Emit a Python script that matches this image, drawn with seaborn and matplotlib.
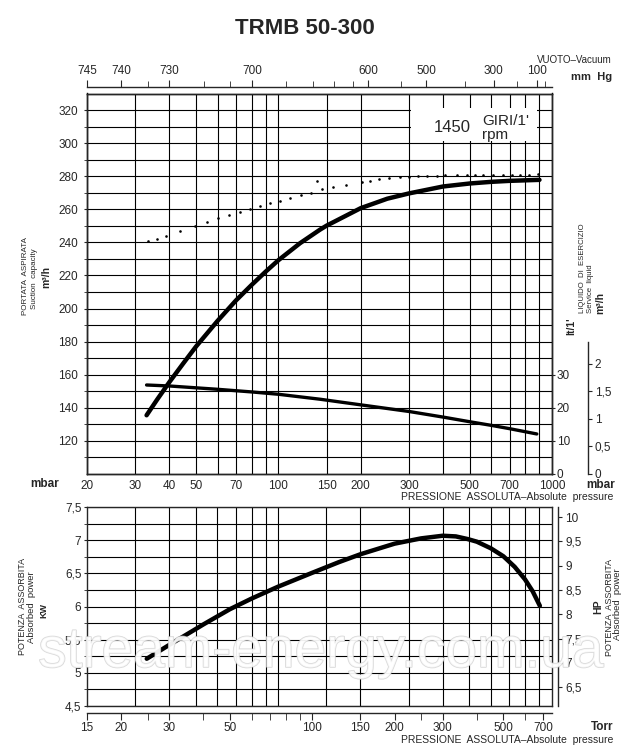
import numpy as np
import matplotlib
matplotlib.use("Agg")
import matplotlib.pyplot as plt
import matplotlib.ticker as mticker
import matplotlib.patheffects as pe
from matplotlib.patches import Rectangle
import seaborn as sns

# ---- dati ----
# portata aspirata (m3/h) in funzione della pressione assoluta (mbar)
p_portata = [33, 36, 40, 45, 50, 60, 70, 80, 90, 100, 120, 142, 150, 200, 250, 300, 400, 500, 600, 700, 900]
portata = [135.5, 144.8, 155.6, 167.0, 177.0, 192.6, 204.9, 214.4, 222.4, 229.2, 239.5, 247.7, 250.1, 260.7,
           266.4, 269.6, 273.8, 275.6, 276.6, 277.2, 277.8]

# curva puntinata (portata teorica)
p_punti = [33.5, 35.9, 39.0, 43.8, 49.8, 55.0, 60.3, 66.0, 72.2, 78.8, 85.6, 93, 101, 110.6, 121, 131.6, 138,
           144, 158, 177, 202, 216, 234, 254, 279, 300, 325, 348, 379, 406, 449, 488, 523, 561, 610, 664,
           712, 764, 826, 891]
punti = [240.6, 242.2, 244.0, 246.9, 249.7, 252.1, 254.6, 256.6, 258.6, 260.4, 262.2, 263.9, 265.3, 266.9,
         268.7, 270.1, 277.4, 272.0, 273.4, 274.8, 276.6, 277.4, 278.2, 279.0, 279.6, 279.8, 280.0, 280.2,
         280.4, 280.6, 280.8, 280.8, 280.8, 281.0, 281.0, 281.0, 281.0, 281.0, 281.0, 281.2]

# liquido di esercizio (lt/1')
p_liquido = [33, 40, 60, 80, 100, 142, 200, 300, 400, 500, 600, 700, 880]
liquido = [26.9, 26.6, 25.6, 24.8, 24.1, 22.6, 20.9, 18.9, 17.2, 15.8, 14.7, 13.7, 12.1]

# potenza assorbita (kW) in funzione della pressione (Torr)
p_potenza = [24.8, 30, 40, 50, 60, 75, 100, 125, 150, 200, 250, 300, 335, 370, 400, 450, 500, 550, 600, 640, 680]
potenza = [5.21, 5.42, 5.73, 5.96, 6.12, 6.30, 6.51, 6.67, 6.79, 6.95, 7.03, 7.07, 7.06, 7.02, 6.98, 6.88,
           6.76, 6.60, 6.41, 6.23, 6.01]

# griglie e tacche
griglia_mbar = [30, 40, 50, 60, 70, 80, 90, 100, 150, 200, 300, 400, 500, 600, 700, 800, 900]
tick_mbar = [20, 30, 40, 50, 70, 100, 150, 200, 300, 500, 700, 1000]
minor_mbar = [60, 80, 90, 400, 600, 800, 900]
vuoto_major = [745, 740, 730, 700, 600, 500, 300, 100]
vuoto_minor = [735, 720, 710, 680, 660, 640, 620, 550, 400, 200, 50]
torr_major = [15, 20, 30, 50, 100, 150, 200, 300, 500, 700]
torr_minor = [25, 40, 60, 70, 80, 90, 250, 400, 600]
kw_ticks = [4.5, 5, 5.5, 6, 6.5, 7, 7.5]
kw_labels = ["4,5", "5", "5,5", "6", "6,5", "7", "7,5"]
hp_ticks = [6.5, 7, 7.5, 8, 8.5, 9, 9.5, 10]
hp_labels = ["6,5", "7", "7,5", "8", "8,5", "9", "9,5", "10"]
lt_ticks = [0, 10, 20, 30]
m3h_ticks = [0, 0.5, 1, 1.5, 2]
m3h_labels = ["0", "0,5", "1", "1,5", "2"]

MBAR_TORR = 0.750062
X_MIN, X_MAX = 19.99, 1000

sns.set_style("white")
plt.rcParams["font.family"] = ["Liberation Sans", "DejaVu Sans"]
plt.rcParams["axes.linewidth"] = 1.0

fig = plt.figure(figsize=(6.4, 7.5), dpi=100)
W, H = 640, 750


def T(x, y, s, **kw):
    fig.text(x / W, 1 - y / H, s, **kw)


# ---------------- grafico superiore ----------------
ax = fig.add_axes([87 / W, 1 - 474 / H, 465 / W, 380.5 / H])
ax.set_xscale("log")
ax.set_xlim(X_MIN, X_MAX)
ax.set_ylim(100, 330)

ax.set_xticks(tick_mbar, labels=[str(t) for t in tick_mbar])
ax.set_xticks(minor_mbar, minor=True)
ax.xaxis.set_minor_formatter(mticker.NullFormatter())
ax.set_yticks(range(120, 321, 20))
ax.set_yticks(range(110, 330, 20), minor=True)
ax.grid(True, which="both", color="black", lw=0.8)
ax.tick_params(axis="x", which="both", length=0, pad=4, labelsize=8.5)
ax.tick_params(axis="y", which="major", length=2.5, pad=4, labelsize=8.5, direction="out", left=True)
ax.tick_params(axis="y", which="minor", length=2.5, left=True)
for s in ax.spines.values():
    s.set_color("black")

sns.lineplot(x=p_portata, y=portata, ax=ax, color="black", linewidth=3.2)
sns.scatterplot(x=p_punti, y=punti, ax=ax, color="black", s=3.5, marker="o", linewidth=0)
ax.set_xlabel("")
ax.set_ylabel("")

# riquadro giri
ax.add_patch(Rectangle((306, 301), 578, 20.5, facecolor="white", edgecolor="none", zorder=2))

# asse liquido lt/1'
ax_l = ax.twinx()
ax_l.set_ylim(0, 115)
sns.lineplot(x=p_liquido, y=liquido, ax=ax_l, color="black", linewidth=2.4)
ax_l.set_xlabel("")
ax_l.set_ylabel("")
ax_l.set_yticks(lt_ticks)
ax_l.tick_params(axis="y", length=2, pad=1.5, labelsize=8.5, direction="out")
ax_l.grid(False)

# asse m3/h liquido
sec_m = ax_l.secondary_yaxis(1.077, functions=(lambda l: l * 0.06, lambda m: m / 0.06))
sec_m.set_yticks(m3h_ticks, labels=m3h_labels)
sec_m.tick_params(length=3, pad=2, labelsize=8.5, direction="out")
sec_m.spines["right"].set_bounds(0, 2.4)

# asse superiore: vuoto mm Hg
sec_v = ax.secondary_xaxis(1.017, functions=(lambda m: 760 - m / 1.333224,
                                              lambda v: (760 - v) * 1.333224))
sec_v.set_xticks(vuoto_major, labels=[str(v) for v in vuoto_major])
sec_v.set_xticks(vuoto_minor, minor=True)
sec_v.xaxis.set_minor_formatter(mticker.NullFormatter())
sec_v.tick_params(which="major", length=5, pad=2, labelsize=8.5, direction="out")
sec_v.tick_params(which="minor", length=4, direction="out")

# ---------------- grafico inferiore ----------------
ax2 = fig.add_axes([87 / W, 1 - 705.7 / H, 464.5 / W, 198.4 / H])
ax2.set_xscale("log")
ax2.set_xlim(X_MIN * MBAR_TORR, X_MAX * MBAR_TORR)
ax2.set_ylim(4.5, 7.5)
ax2.set_xticks([g * MBAR_TORR for g in griglia_mbar])
ax2.xaxis.set_major_formatter(mticker.NullFormatter())
ax2.xaxis.set_minor_locator(mticker.NullLocator())
ax2.set_yticks(kw_ticks, labels=kw_labels)
ax2.set_yticks(np.array(kw_ticks[:-1]) + 0.25, minor=True)
ax2.grid(True, which="both", color="black", lw=0.8)
ax2.tick_params(axis="x", length=0)
ax2.tick_params(axis="y", which="both", length=2.5, pad=1.5, labelsize=8.5, left=True, direction="out")

sns.lineplot(x=p_potenza, y=potenza, ax=ax2, color="black", linewidth=3.2)
ax2.set_xlabel("")
ax2.set_ylabel("")

sec_t = ax2.secondary_xaxis(-0.035)
sec_t.set_xticks(torr_major, labels=[str(t) for t in torr_major])
sec_t.set_xticks(torr_minor, minor=True)
sec_t.xaxis.set_minor_formatter(mticker.NullFormatter())
sec_t.tick_params(which="both", length=5, pad=2, labelsize=8.5, direction="out")

sec_hp = ax2.secondary_yaxis(1.015, functions=(lambda k: k * 1.36, lambda h: h / 1.36))
sec_hp.set_yticks(hp_ticks, labels=hp_labels)
sec_hp.tick_params(length=3, pad=2, labelsize=8.5, direction="out")

# ---------------- testi ----------------
T(305, 28, "TRMB 50-300", fontsize=16, fontweight="bold", ha="center", va="center")
T(612, 60, "VUOTO\u2013Vacuum", fontsize=7, ha="right", va="center")
T(612, 77, "mm  Hg", fontsize=8, fontweight="bold", ha="right", va="center")

T(45, 484, "mbar", fontsize=8.5, fontweight="bold", ha="center", va="center")
T(601, 485, "mbar", fontsize=8.5, fontweight="bold", ha="center", va="center")
T(401, 497, "PRESSIONE  ASSOLUTA\u2013Absolute  pressure", fontsize=7.5, ha="left", va="center")

T(452, 128, "1450", fontsize=12, ha="center", va="center")
T(482, 121, "GIRI/1'", fontsize=11, ha="left", va="center")
T(482, 135, "rpm", fontsize=11, ha="left", va="center")

T(26, 276, "PORTATA  ASPIRATA", fontsize=5.8, rotation=90, ha="center", va="center")
T(34, 279, "Suction  capacity", fontsize=5.8, rotation=90, ha="center", va="center")
T(46, 277, "m\u00b3/h", fontsize=7.5, fontweight="bold", rotation=90, ha="center", va="center")

T(571, 326, "lt/1'", fontsize=7.5, fontweight="bold", rotation=90, ha="center", va="center")
T(583, 313, "LIQUIDO  DI  ESERCIZIO", fontsize=5.6, rotation=90, ha="center", va="bottom")
T(590, 313, "Service  liquid", fontsize=5.6, rotation=90, ha="center", va="bottom")
T(600, 314, "m\u00b3/h", fontsize=7.5, fontweight="bold", rotation=90, ha="center", va="bottom")

T(23, 606, "POTENZA  ASSORBITA", fontsize=6.5, rotation=90, ha="center", va="center")
T(32, 607, "Absorbed  power", fontsize=6.8, rotation=90, ha="center", va="center")
T(44, 610, "KW", fontsize=6.5, fontweight="bold", rotation=90, ha="center", va="center")

T(598, 607, "HP", fontsize=7.5, fontweight="bold", rotation=90, ha="center", va="center")
T(609, 607, "POTENZA  ASSORBITA", fontsize=6.5, rotation=90, ha="center", va="center")
T(618, 604, "Absorbed  power", fontsize=6.8, rotation=90, ha="center", va="center")

T(602, 727, "Torr", fontsize=8.5, fontweight="bold", ha="center", va="center")
T(401, 740, "PRESSIONE  ASSOLUTA\u2013Absolute  pressure", fontsize=7.5, ha="left", va="center")

# filigrana
T(321, 652, "stream-energy.com.ua", fontsize=41, color="white", alpha=0.75, ha="center", va="center",
  path_effects=[pe.withStroke(linewidth=1.1, foreground="#cccccc")])

fig.savefig("out.png", dpi=100, facecolor="white")
